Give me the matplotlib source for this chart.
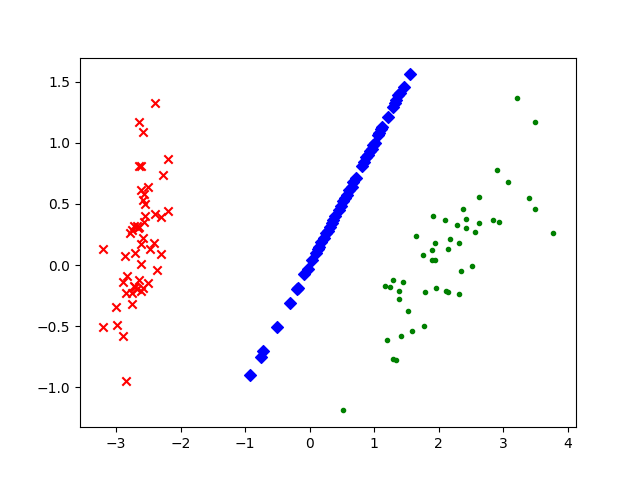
import matplotlib
matplotlib.use("Agg")
import matplotlib.pyplot as plt

# class 1 (red x)
red_x = [-2.39, -2.64, -2.59, -2.20, -2.65, -2.62, -2.28, -2.50, -2.62, -2.56,
         -2.59, -2.55, -2.20, -2.39, -2.31, -2.55, -2.56, -2.72, -2.64, -2.75,
         -2.79, -2.59, -2.62, -2.41, -3.21, -2.47, -2.30, -2.70, -2.86, -2.61,
         -2.36, -2.83, -2.89, -2.65, -2.50, -2.72, -2.61, -2.84, -2.76, -2.67,
         -2.75, -3.00, -3.21, -2.98, -2.89, -2.84, -2.68, -2.70, -2.66, -2.58]
red_y = [1.33, 1.17, 1.09, 0.87, 0.81, 0.81, 0.74, 0.64, 0.61, 0.58,
         0.53, 0.50, 0.44, 0.42, 0.39, 0.40, 0.35, 0.32, 0.31, 0.29,
         0.26, 0.22, 0.17, 0.18, 0.13, 0.13, 0.09, 0.10, 0.07, 0.01,
         -0.04, -0.09, -0.14, -0.12, -0.15, -0.17, -0.21, -0.23, -0.23, -0.20,
         -0.32, -0.34, -0.51, -0.49, -0.58, -0.95, 0.32, -0.18, 0.30, -0.19]

# class 2 (blue diamonds)
blue_x = [1.56, 1.46, 1.37, 1.32, 1.30, 1.22, 1.10, 1.06, 1.01, 0.96,
          0.91, 0.81, 0.72, 0.65, 0.58, 0.48, 0.37, 0.31, 0.25, 0.18,
          0.13, 0.04, -0.03, -0.08, -0.18, -0.30, -0.51, -0.73, -0.75, -0.92,
          1.40, 1.34, 1.12, 1.08, 0.98, 0.93, 0.88, 0.84, 0.68, 0.61,
          0.55, 0.52, 0.45, 0.40, 0.34, 0.28, 0.22, 0.15, 0.10, -0.20]
blue_y = [1.56, 1.46, 1.39, 1.33, 1.29, 1.21, 1.11, 1.06, 1.00, 0.95,
          0.90, 0.81, 0.71, 0.64, 0.57, 0.48, 0.37, 0.31, 0.26, 0.19,
          0.13, 0.04, -0.03, -0.07, -0.19, -0.31, -0.51, -0.70, -0.75, -0.90,
          1.41, 1.35, 1.13, 1.08, 0.98, 0.93, 0.88, 0.84, 0.68, 0.61,
          0.55, 0.52, 0.45, 0.40, 0.34, 0.28, 0.22, 0.15, 0.10, -0.20]

# class 3 (green dots)
green_x = [3.22, 3.49, 2.91, 3.07, 2.62, 3.40, 2.38, 3.49, 1.92, 2.10,
           2.43, 2.84, 2.93, 2.28, 2.62, 2.42, 2.56, 3.78, 1.65, 2.17,
           1.95, 2.31, 2.14, 1.90, 1.76, 1.90, 1.95, 2.52, 2.35, 1.30,
           1.17, 1.25, 1.44, 1.39, 1.96, 1.79, 2.12, 2.15, 2.32, 1.39,
           1.53, 1.78, 1.59, 1.42, 1.20, 1.30, 1.34, 0.52]
green_y = [1.37, 1.17, 0.78, 0.68, 0.56, 0.55, 0.46, 0.46, 0.40, 0.37,
           0.38, 0.37, 0.35, 0.33, 0.34, 0.30, 0.27, 0.26, 0.24, 0.21,
           0.18, 0.18, 0.13, 0.12, 0.08, 0.04, 0.04, -0.01, -0.05, -0.12,
           -0.17, -0.18, -0.14, -0.21, -0.19, -0.22, -0.21, -0.22, -0.24, -0.28,
           -0.38, -0.50, -0.54, -0.58, -0.61, -0.77, -0.78, -1.19]

plt.figure(figsize=(6.4, 4.8), dpi=100)
plt.scatter(red_x, red_y, c="r", marker="x")
plt.scatter(blue_x, blue_y, c="b", marker="D")
plt.scatter(green_x, green_y, c="g", marker=".")
plt.savefig("out.png")
plt.close()
